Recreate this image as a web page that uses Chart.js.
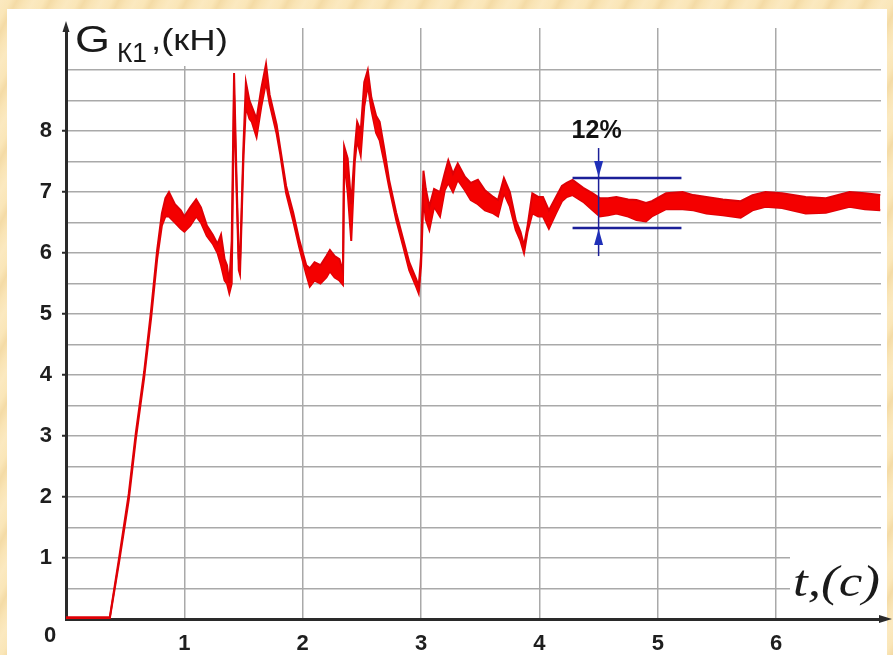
<!DOCTYPE html>
<html>
<head>
<meta charset="utf-8">
<script src="https://cdn.jsdelivr.net/npm/chart.js@4.4.1/dist/chart.umd.min.js"></script>
<style>
  html, body {
    margin: 0; padding: 0; width: 893px; height: 655px; overflow: hidden;
    background: repeating-linear-gradient(118deg, #fbe9c0 0px, #fae6b8 9px, #f4dba6 15px, #f9e4b5 22px, #fbe9c0 30px);
  }
  #c { position: absolute; left: 0; top: 0; }
</style>
</head>
<body>
<canvas id="c" width="893" height="655"></canvas>
<script>
// Time axis of the recording, seconds
const timeS = [
  0.00, 0.20, 0.37, 0.45, 0.53, 0.59, 0.66, 0.72, 0.77, 0.81,
  0.84, 0.87, 0.92, 0.97, 1.00, 1.05, 1.10, 1.14, 1.19, 1.24,
  1.28, 1.31, 1.34, 1.36, 1.38, 1.40, 1.42, 1.44, 1.46, 1.47,
  1.50, 1.52, 1.55, 1.57, 1.61, 1.65, 1.69, 1.72, 1.78, 1.81,
  1.86, 1.92, 1.97, 2.03, 2.06, 2.10, 2.15, 2.20, 2.23, 2.27,
  2.31, 2.34, 2.35, 2.38, 2.41, 2.44, 2.46, 2.49, 2.52, 2.55,
  2.58, 2.62, 2.65, 2.69, 2.73, 2.79, 2.85, 2.90, 2.96, 2.98,
  3.00, 3.02, 3.04, 3.07, 3.11, 3.16, 3.20, 3.23, 3.27, 3.31,
  3.37, 3.42, 3.48, 3.54, 3.61, 3.65, 3.70, 3.75, 3.80, 3.84,
  3.87, 3.90, 3.94, 3.99, 4.03, 4.08, 4.14, 4.19, 4.23, 4.28,
  4.37, 4.45, 4.51, 4.58, 4.65, 4.75, 4.82, 4.90, 4.95, 5.07,
  5.21, 5.30, 5.41, 5.55, 5.70, 5.80, 5.91, 6.05, 6.25, 6.42,
  6.62, 6.75, 6.88
];

// Lower edge of the measured force trace G_K1, kN
const loadLow = [
  0.01, 0.01, 0.01, 0.95, 1.95, 2.95, 3.95, 4.95, 5.90, 6.45,
  6.60, 6.60, 6.50, 6.40, 6.35, 6.45, 6.60, 6.50, 6.28, 6.15,
  6.00, 5.80, 5.55, 5.50, 5.34, 5.50, 8.60, 7.10, 5.72, 5.65,
  7.60, 8.40, 8.20, 8.15, 7.90, 8.40, 8.80, 8.45, 7.95, 7.62,
  6.98, 6.52, 6.10, 5.65, 5.45, 5.55, 5.50, 5.60, 5.70, 5.60,
  5.55, 5.48, 7.50, 7.00, 6.20, 7.50, 7.85, 7.60, 8.40, 8.75,
  8.35, 7.97, 7.85, 7.48, 7.08, 6.54, 6.10, 5.72, 5.44, 5.34,
  5.80, 6.90, 6.55, 6.38, 6.76, 6.60, 7.03, 7.15, 7.00, 7.20,
  7.03, 6.87, 6.80, 6.70, 6.65, 6.60, 6.98, 6.76, 6.38, 6.20,
  6.00, 6.35, 6.65, 6.60, 6.60, 6.40, 6.65, 6.85, 6.92, 6.95,
  6.84, 6.70, 6.60, 6.62, 6.65, 6.60, 6.54, 6.52, 6.60, 6.72,
  6.72, 6.70, 6.65, 6.62, 6.58, 6.70, 6.76, 6.74, 6.65, 6.66,
  6.76, 6.72, 6.70
];

// Upper edge of the measured force trace G_K1, kN
const loadHigh = [
  0.03, 0.03, 0.03, 1.02, 2.05, 3.05, 4.05, 5.08, 6.05, 6.65,
  6.90, 7.00, 6.80, 6.70, 6.60, 6.75, 6.88, 6.75, 6.45, 6.30,
  6.15, 6.30, 5.90, 5.80, 5.50, 6.20, 8.95, 7.30, 5.90, 5.85,
  7.80, 8.80, 8.50, 8.40, 8.20, 8.70, 9.10, 8.60, 8.10, 7.72,
  7.10, 6.66, 6.22, 5.80, 5.75, 5.85, 5.80, 5.95, 6.05, 5.95,
  5.90, 5.70, 7.75, 7.55, 6.80, 7.70, 8.15, 8.00, 8.80, 9.00,
  8.55, 8.25, 8.15, 7.70, 7.20, 6.66, 6.22, 5.85, 5.57, 5.45,
  5.95, 7.35, 7.05, 6.76, 7.05, 7.00, 7.31, 7.52, 7.30, 7.47,
  7.25, 7.15, 7.20, 7.03, 6.92, 6.87, 7.23, 7.00, 6.54, 6.35,
  6.12, 6.45, 6.98, 6.92, 6.92, 6.70, 6.92, 7.10, 7.15, 7.20,
  7.07, 6.98, 6.90, 6.90, 6.92, 6.88, 6.87, 6.82, 6.85, 6.98,
  7.00, 6.95, 6.92, 6.88, 6.85, 6.95, 7.00, 6.98, 6.92, 6.90,
  7.00, 6.98, 6.95
];

// Labelled ticks
const xTickLabels = ['1', '2', '3', '4', '5', '6'];
const yTickLabels = ['1', '2', '3', '4', '5', '6', '7', '8'];

// Steady-state oscillation band marked with its relative size
const bandStart = 4.28;
const bandEnd = 5.20;
const bandTop = 7.23;
const bandBottom = 6.41;
const bandMarkT = 4.50;
const bandLabel = '12%';

const X_MAX = 6.886;
const Y_MAX = 9.69;
const GRID = '#a9a9a9';
const AXIS = '#2a2a2a';
const RED = 'rgb(244,0,0)';
const RED_EDGE = 'rgb(222,0,6)';
const BLUE = '#1b1f98';
const TICK_FONT = { family: '"Liberation Sans", Arial, sans-serif', size: 22, weight: 'bold' };

const highPts = timeS.map((t, i) => ({ x: t, y: loadHigh[i] }));
const lowPts = timeS.map((t, i) => ({ x: t, y: loadLow[i] }));

const isStep = (v, s) => Math.abs(v / s - Math.round(v / s)) < 1e-6;

function fitText(ctx, text, x, baseline, font, width) {
  ctx.save();
  ctx.font = font;
  const w = ctx.measureText(text).width;
  ctx.translate(x, baseline);
  ctx.scale(width / w, 1);
  ctx.textAlign = 'left';
  ctx.textBaseline = 'alphabetic';
  ctx.fillText(text, 0, 0);
  ctx.restore();
}

function arrowHead(ctx, tipX, tipY, dirX, dirY, len, half, color) {
  const bx = tipX - dirX * len, by = tipY - dirY * len;
  ctx.beginPath();
  ctx.moveTo(tipX, tipY);
  ctx.lineTo(bx - dirY * half, by + dirX * half);
  ctx.lineTo(bx + dirY * half, by - dirX * half);
  ctx.closePath();
  ctx.fillStyle = color;
  ctx.fill();
}

const panelPlugin = {
  id: 'panel',
  beforeDraw(chart) {
    const ctx = chart.ctx;
    ctx.save();
    ctx.fillStyle = '#ffffff';
    ctx.fillRect(7, 9, 880, 646);
    ctx.restore();
  }
};

const bandPlugin = {
  id: 'band',
  afterDatasetsDraw(chart) {
    const { ctx, scales: { x, y } } = chart;
    const xs = x.getPixelForValue(bandStart), xe = x.getPixelForValue(bandEnd);
    const yt = y.getPixelForValue(bandTop), yb = y.getPixelForValue(bandBottom);
    const xm = x.getPixelForValue(bandMarkT);
    ctx.save();
    ctx.strokeStyle = BLUE;
    ctx.lineWidth = 2.5;
    ctx.beginPath();
    ctx.moveTo(xs, yt); ctx.lineTo(xe, yt);
    ctx.moveTo(xs, yb); ctx.lineTo(xe, yb);
    ctx.stroke();
    ctx.lineWidth = 1.5;
    ctx.beginPath();
    ctx.moveTo(xm, yt - 30); ctx.lineTo(xm, yb + 28);
    ctx.stroke();
    arrowHead(ctx, xm, yt - 1, 0, 1, 16, 4.5, '#2030b8');
    arrowHead(ctx, xm, yb + 1, 0, -1, 16, 4.5, '#2030b8');
    ctx.fillStyle = '#111';
    ctx.font = 'bold 25px "Liberation Sans", Arial, sans-serif';
    ctx.textAlign = 'center';
    ctx.textBaseline = 'middle';
    ctx.fillText(bandLabel, xm - 2, yt - 47);
    ctx.restore();
  }
};

const axisTextPlugin = {
  id: 'axisText',
  afterDraw(chart) {
    const { ctx, chartArea, scales: { x, y } } = chart;
    const x0 = x.getPixelForValue(0), y0 = y.getPixelForValue(0);
    ctx.save();
    // clear the grid behind the axis titles
    ctx.fillStyle = '#ffffff';
    ctx.fillRect(x0 + 2, 18, 165, 48);
    ctx.fillRect(790, 546, 95, 66);

    ctx.fillStyle = '#1a1a1a';
    fitText(ctx, 'G', 75, 52, '37px "Liberation Sans", Arial, sans-serif', 35);
    fitText(ctx, 'К1', 117, 62, '27px "Liberation Sans", Arial, sans-serif', 30);
    fitText(ctx, ',(кН)', 151, 50, '30px "Liberation Sans", Arial, sans-serif', 77);
    fitText(ctx, 't,(c)', 793, 596, 'italic 44px "Liberation Serif", "Times New Roman", serif', 87);

    // origin label
    ctx.font = 'bold 22px "Liberation Sans", Arial, sans-serif';
    ctx.textAlign = 'center';
    ctx.textBaseline = 'middle';
    ctx.fillStyle = '#1e1e1e';
    ctx.fillText('0', x0 - 16, y0 + 17);

    // axis arrows
    ctx.strokeStyle = AXIS;
    ctx.lineWidth = 3;
    ctx.beginPath();
    ctx.moveTo(chartArea.right - 2, y0);
    ctx.lineTo(884, y0);
    ctx.stroke();
    arrowHead(ctx, 892, y0, 1, 0, 13, 4, AXIS);
    arrowHead(ctx, x0, chartArea.top - 7, 0, -1, 11, 3.5, AXIS);
    ctx.restore();
  }
};

new Chart(document.getElementById('c'), {
  type: 'line',
  data: {
    datasets: [
      {
        label: 'G_K1 max',
        data: highPts,
        borderColor: RED_EDGE,
        backgroundColor: RED,
        borderWidth: 2,
        pointRadius: 0,
        tension: 0,
        fill: '+1'
      },
      {
        label: 'G_K1 min',
        data: lowPts,
        borderColor: RED_EDGE,
        backgroundColor: RED,
        borderWidth: 2,
        pointRadius: 0,
        tension: 0,
        fill: false
      }
    ]
  },
  options: {
    responsive: false,
    animation: false,
    devicePixelRatio: 1,
    layout: { padding: { left: 0, top: 28, right: 11, bottom: 0 } },
    plugins: { legend: { display: false }, tooltip: { enabled: false } },
    scales: {
      x: {
        type: 'linear',
        min: 0,
        max: X_MAX,
        afterFit(s) { s.height = 36; },
        border: { display: true, color: AXIS, width: 3 },
        grid: {
          color: (c) => (c.tick && isStep(c.tick.value, 1)) ? GRID : 'rgba(0,0,0,0)',
          lineWidth: 1.5,
          drawTicks: false
        },
        ticks: {
          stepSize: 1,
          autoSkip: false,
          maxRotation: 0,
          padding: 12,
          color: '#1e1e1e',
          font: TICK_FONT,
          callback: (v) => {
            const i = Math.round(v) - 1;
            return (isStep(v, 1) && i >= 0 && i < xTickLabels.length) ? xTickLabels[i] : '';
          }
        }
      },
      y: {
        type: 'linear',
        min: 0,
        max: Y_MAX,
        afterFit(s) { s.width = 66; },
        border: { display: true, color: AXIS, width: 3 },
        grid: {
          color: (c) => (c.tick && isStep(c.tick.value, 0.5)) ? GRID : 'rgba(0,0,0,0)',
          lineWidth: 1.5,
          drawTicks: true,
          tickLength: 4,
          tickWidth: 2,
          tickColor: (c) => (c.tick && isStep(c.tick.value, 1) && c.tick.value >= 1 && c.tick.value <= 8) ? AXIS : 'rgba(0,0,0,0)'
        },
        ticks: {
          stepSize: 0.5,
          autoSkip: false,
          padding: 10,
          color: '#1e1e1e',
          font: TICK_FONT,
          callback: (v) => {
            const i = Math.round(v) - 1;
            return (isStep(v, 1) && i >= 0 && i < yTickLabels.length) ? yTickLabels[i] : '';
          }
        }
      }
    }
  },
  plugins: [panelPlugin, bandPlugin, axisTextPlugin]
});
</script>
</body>
</html>
